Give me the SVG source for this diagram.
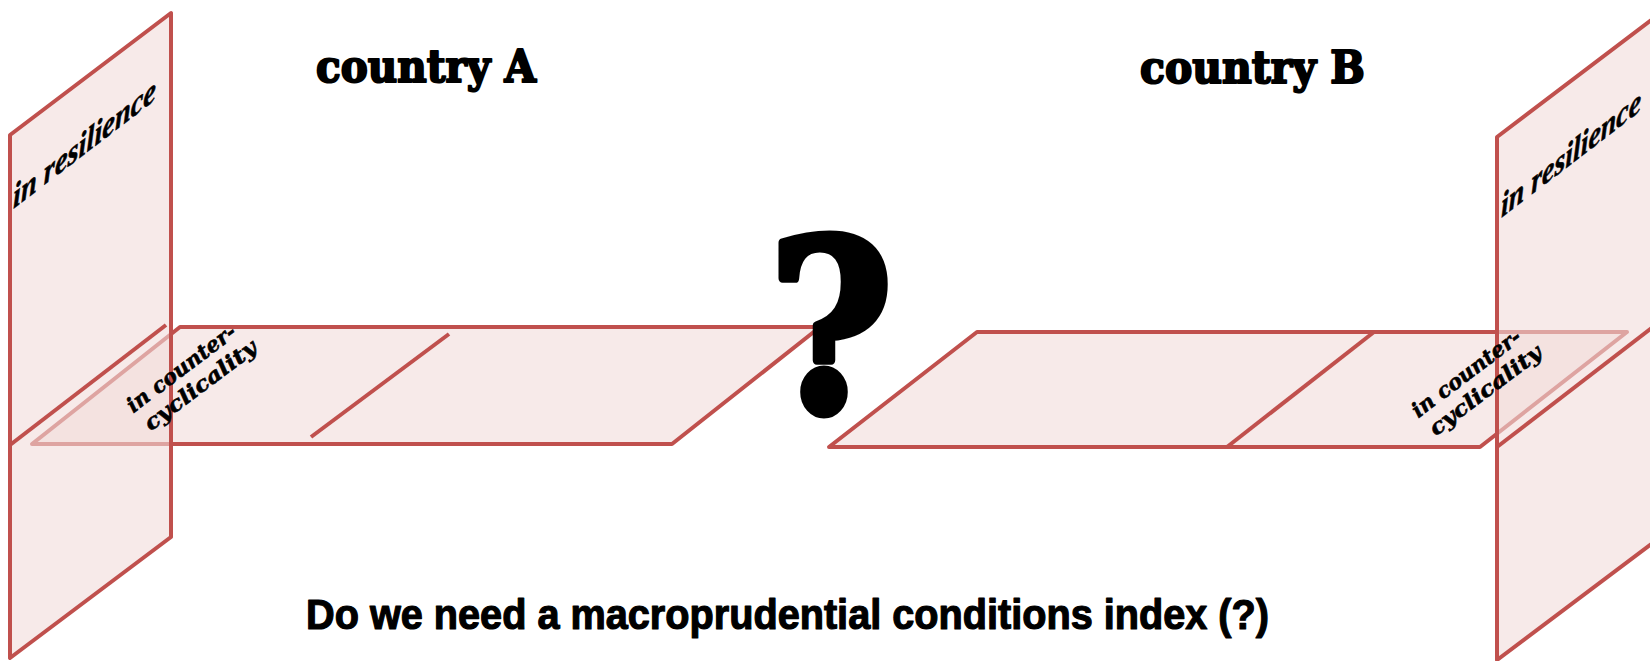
<svg xmlns="http://www.w3.org/2000/svg" width="1650" height="661" viewBox="0 0 1650 661">
<style>
.plane{fill:#f2dcdb;fill-opacity:0.6;stroke:#c0504d;stroke-width:4;stroke-linejoin:round}
.ln{fill:none;stroke:#c0504d;stroke-width:4;stroke-linecap:butt}
.title{font-family:"DejaVu Serif","Liberation Serif",serif;font-weight:bold;font-size:45px;fill:#000;stroke:#000;stroke-width:2.2;stroke-linejoin:round}
.res{font-family:"Liberation Serif",serif;font-weight:bold;font-style:italic;font-size:34px;fill:#000;stroke:#000;stroke-width:0.6}
.cc{font-family:"DejaVu Serif","Liberation Serif",serif;font-weight:bold;font-style:italic;font-size:21px;fill:#000;text-anchor:middle;stroke:#000;stroke-width:0.6}
.q{font-family:"DejaVu Serif","Liberation Serif",serif;font-weight:bold;font-size:236px;fill:#000;text-anchor:middle;stroke:#000;stroke-width:9;stroke-linejoin:round}
.bottom{font-family:"Liberation Sans Narrow","Liberation Sans",sans-serif;font-weight:bold;font-size:42px;fill:#000;stroke:#000;stroke-width:1.2;stroke-linejoin:round}
</style>
<rect width="1650" height="661" fill="#fff"/>
<g id="planeA-horizontal">
<polygon class="plane" points="180,327 820,327 672,444 32,444"/>
<line class="ln" x1="311" y1="437" x2="449" y2="334"/>
</g>
<g id="planeB-horizontal">
<polygon class="plane" points="977,332 1627,332 1480,447 829,447"/>
<line class="ln" x1="1227" y1="447" x2="1374" y2="332"/>
</g>
<g id="planeA-vertical">
<polygon class="plane" points="10,135 171,13 171,537 10,658"/>
<line class="ln" x1="10" y1="445" x2="166" y2="325"/>
</g>
<g id="planeB-vertical">
<polygon class="plane" points="1497,137 1658,15 1658,539 1497,660"/>
<line class="ln" x1="1497" y1="447" x2="1653" y2="327"/>
</g>
<g id="connectors"></g>
<g id="labels">
<text class="title" x="316" y="82" textLength="220" lengthAdjust="spacingAndGlyphs">country A</text>
<text class="title" x="1140" y="83" textLength="225" lengthAdjust="spacingAndGlyphs">country B</text>
<text class="res" transform="translate(13,209) skewY(-37.5)" textLength="143" lengthAdjust="spacingAndGlyphs">in resilience</text>
<text class="res" transform="translate(1501,218) skewY(-37.5)" textLength="140" lengthAdjust="spacingAndGlyphs">in resilience</text>
<g transform="translate(185.5,374) rotate(-37)">
<text class="cc" x="0" y="0" textLength="131" lengthAdjust="spacingAndGlyphs">in counter-</text>
<text class="cc" x="5" y="25" textLength="135" lengthAdjust="spacingAndGlyphs">cyclicality</text>
</g>
<g transform="translate(1470.5,379) rotate(-37)">
<text class="cc" x="0" y="0" textLength="131" lengthAdjust="spacingAndGlyphs">in counter-</text>
<text class="cc" x="5" y="25" textLength="135" lengthAdjust="spacingAndGlyphs">cyclicality</text>
</g>
<text class="q" transform="translate(831,411) scale(0.9,1)">?</text>
<text class="bottom" x="306" y="629" textLength="963" lengthAdjust="spacingAndGlyphs">Do we need a macroprudential conditions index (?)</text>
</g>
</svg>
